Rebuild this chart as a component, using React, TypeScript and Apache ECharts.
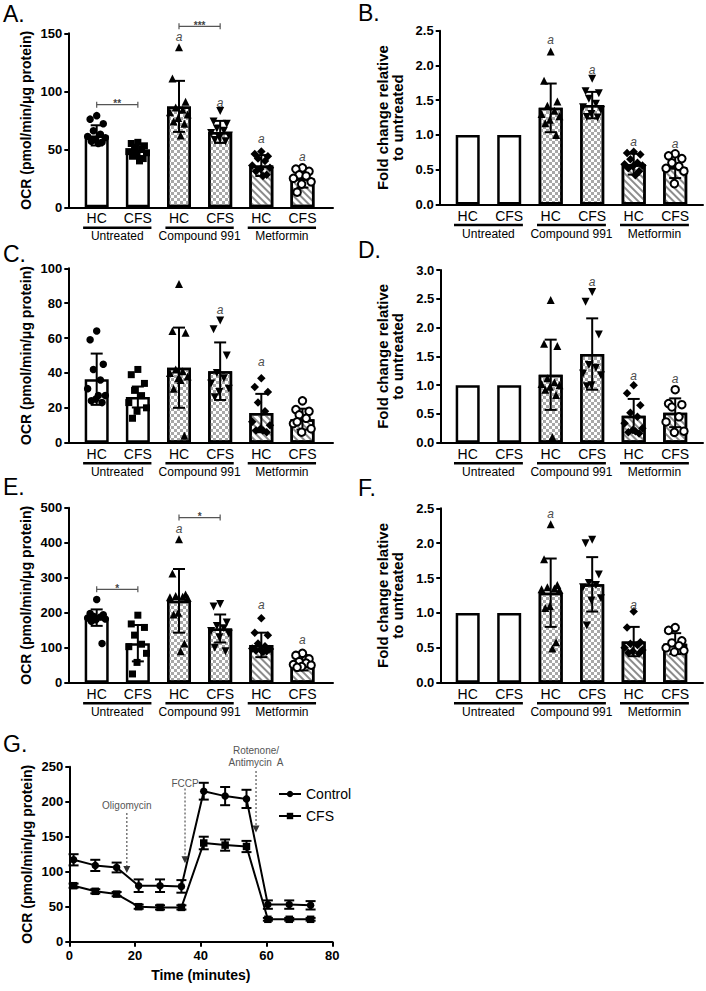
import React, { useEffect, useRef } from "react";
import * as echarts from "echarts";

const FONT = "'Liberation Sans', Arial, Helvetica, sans-serif";

// ---------- shared categories ----------
const CATEGORIES = ["HC", "CFS", "HC", "CFS", "HC", "CFS"];
const GROUPS = ["Untreated", "Compound 991", "Metformin"];
const GROUP_SPANS = [[0, 1], [2, 3], [4, 5]];
const JITTER = [0, -0.16, 0.16, -0.08, 0.09, -0.22, 0.21, -0.02, -0.13, 0.13, 0.04, -0.19];

// ---------- Panel A ----------
const A_MEANS = [62, 49, 87, 65, 36, 25];
const A_SD = [8.7, 5, 22, 9.5, 9, 8];
const A_POINTS = [
  [79, 76, 72, 66, 63, 61, 60, 58, 57, 56, 55],
  [56, 55, 53, 51, 50, 48, 47, 45, 44, 42, 40],
  [138, 111, 91, 86, 84, 82, 80, 77, 74, 72, 62],
  [83, 74, 72, 68, 66, 64, 62, 60, 58, 57],
  [48, 46, 44, 42, 40, 36, 34, 33, 31, 28, 27],
  [34, 33, 31, 28, 27, 25, 22, 20, 13],
];
const A_MARKS = [[2, 146.5], [3, 90], [4, 59], [5, 43]];
const A_BRACKETS = [[0, 1, 88.5], [2, 3, 156]];
const A_BRACKET_LABELS = ["**", "***"];

// ---------- Panel B ----------
const B_MEANS = [1, 1, 1.39, 1.43, 0.58, 0.54];
const B_SD = [0, 0, 0.35, 0.19, 0.15, 0.16];
const B_POINTS = [
  [],
  [],
  [2.2, 1.78, 1.48, 1.42, 1.35, 1.3, 1.27, 1.22, 1.17, 1.0],
  [1.81, 1.63, 1.6, 1.52, 1.45, 1.4, 1.36, 1.3, 1.26, 1.25],
  [0.76, 0.74, 0.72, 0.65, 0.6, 0.58, 0.56, 0.55, 0.52, 0.48, 0.42],
  [0.73, 0.7, 0.66, 0.6, 0.55, 0.52, 0.48, 0.3],
];
const B_MARKS = [[2, 2.37], [3, 1.93], [4, 0.9], [5, 0.87]];

// ---------- Panel C ----------
const C_MEANS = [36.4, 26.2, 43, 41, 17, 13.5];
const C_SD = [14.7, 6, 23, 16.5, 11, 6];
const C_POINTS = [
  [64, 59, 45, 42, 36, 31, 27, 25, 24, 23, 27],
  [42, 39, 34, 30, 27, 23, 20, 18, 14],
  [91, 64, 63, 42, 41, 40, 38, 37, 31, 4, 36],
  [70, 65, 50, 40, 37, 34, 31, 29, 26],
  [37, 32, 29, 23, 18, 12, 10, 8, 7, 6, 7],
  [24, 19, 18, 16, 14, 11, 8, 6, 12],
];
const C_MARKS = [[3, 76], [4, 46]];

// ---------- Panel D ----------
const D_MEANS = [1, 1, 1.18, 1.54, 0.47, 0.52];
const D_SD = [0, 0, 0.61, 0.62, 0.29, 0.25];
const D_POINTS = [
  [],
  [],
  [2.48, 1.72, 1.68, 1.12, 1.05, 1.02, 1.0, 0.97, 0.92, 0.83, 0.1],
  [2.62, 2.45, 1.88, 1.35, 1.3, 1.2, 1.17, 1.0, 0.98],
  [1.0, 0.86, 0.65, 0.52, 0.45, 0.34, 0.25, 0.22, 0.18, 0.16, 0.2],
  [0.92, 0.68, 0.66, 0.62, 0.45, 0.36, 0.2, 0.18],
];
const D_MARKS = [[3, 2.8], [4, 1.15], [5, 1.1]];

// ---------- Panel E ----------
const E_MEANS = [186, 113, 234, 155, 108, 57];
const E_SD = [23.5, 52, 91, 40, 35, 22];
const E_POINTS = [
  [238, 198, 194, 190, 188, 185, 182, 180, 176, 112],
  [193, 168, 158, 136, 110, 103, 84, 58, 25],
  [410, 312, 252, 248, 246, 244, 242, 200, 195, 112, 90],
  [225, 218, 172, 162, 156, 148, 140, 130, 100, 90],
  [184, 143, 136, 112, 104, 98, 96, 94, 92, 90, 88],
  [84, 78, 68, 60, 56, 52, 50, 46, 44],
];
const E_MARKS = [[2, 438], [4, 222], [5, 122]];
const E_BRACKETS = [[0, 1, 267], [2, 3, 472]];
const E_BRACKET_LABELS = ["*", "*"];

// ---------- Panel F ----------
const F_MEANS = [1, 1, 1.29, 1.41, 0.59, 0.56];
const F_SD = [0, 0, 0.49, 0.39, 0.21, 0.15];
const F_POINTS = [
  [],
  [],
  [2.27, 1.77, 1.4, 1.37, 1.35, 1.34, 1.33, 1.1, 1.07, 0.58, 0.49],
  [2.05, 2.0, 1.55, 1.43, 1.4, 1.37, 1.21, 1.18, 0.82],
  [1.02, 0.79, 0.58, 0.56, 0.54, 0.5, 0.47, 0.45, 0.43, 0.42],
  [0.79, 0.75, 0.6, 0.57, 0.53, 0.5, 0.46, 0.44],
];
const F_MARKS = [[2, 2.42], [4, 1.11]];

// ---------- Panel G ----------
const G_TIME = [1.3, 7.9, 14.4, 21.1, 27.6, 34.1, 40.9, 47.4, 53.9, 60.4, 66.9, 73.4];
const G_CONTROL = [117, 109, 106, 80, 80, 79, 215, 208, 204, 53, 53, 52];
const G_CONTROL_SD = [8, 8, 7, 9, 9, 9, 12, 13, 13, 6, 6, 6];
const G_CFS = [80, 72, 68, 50, 49, 49, 141, 138, 136, 32, 32, 32];
const G_CFS_SD = [3, 3, 3, 3, 3, 3, 9, 8, 8, 2, 2, 2];
const G_INJECTIONS = [[17.5, 184, 98, 194], [35.2, 219, 112, 226.7], [56.8, 244, 156, 264]];
const G_INJECTION_LABELS = ["Oligomycin", "FCCP", "Rotenone/\nAntimycin  A"];

const OCR_NAME = "OCR (pmol/min/μg protein)";
const FOLD_NAME = "Fold change relative\nto untreated";

// ---------- styling ----------
const SYMBOLS = ["circle", "rect", "triangle", "triangle", "diamond", "circle"];
const SYMBOL_ROT = [0, 0, 0, 180, 0, 0];
const SYMBOL_FILL = ["#000", "#000", "#000", "#000", "#000", "#fff"];
const SYMBOL_SIZE = [7.5, 7, 8, 8, 8.5, 7.5];
const CHECK_DECAL = {
  symbol: "rect",
  symbolSize: 1,
  color: "#a8a8a8",
  dashArrayX: [[3, 3], [0, 3, 3, 0]],
  dashArrayY: [3, 0],
  rotation: 0,
};
const STRIPE_DECAL = {
  symbol: "rect",
  symbolSize: 1,
  color: "#8c8c8c",
  dashArrayX: [1, 0],
  dashArrayY: [2, 3],
  rotation: Math.PI / 4,
};
const DECALS = [null, null, CHECK_DECAL, CHECK_DECAL, STRIPE_DECAL, STRIPE_DECAL];

type BarPanel = {
  means: number[];
  sds: number[];
  points: number[][];
  marks: number[][];
  brackets?: number[][];
  bracketLabels?: string[];
  box: { left: number; top: number; width: number; height: number };
  xMin: number;
  xMax: number;
  yMax: number;
  yInterval: number;
  decimals: number;
  yName: string;
  yNameSize: number;
};

const PANELS: BarPanel[] = [
  { means: A_MEANS, sds: A_SD, points: A_POINTS, marks: A_MARKS, brackets: A_BRACKETS, bracketLabels: A_BRACKET_LABELS,
    box: { left: 68.3, top: 33.3, width: 264.7, height: 174 }, xMin: -0.69, xMax: 5.742, yMax: 150, yInterval: 50, decimals: 0, yName: OCR_NAME, yNameSize: 14 },
  { means: B_MEANS, sds: B_SD, points: B_POINTS, marks: B_MARKS,
    box: { left: 439.7, top: 30.7, width: 263.3, height: 173.8 }, xMin: -0.675, xMax: 5.67, yMax: 2.5, yInterval: 0.5, decimals: 1, yName: FOLD_NAME, yNameSize: 15 },
  { means: C_MEANS, sds: C_SD, points: C_POINTS, marks: C_MARKS,
    box: { left: 68.3, top: 268.3, width: 264.7, height: 174.4 }, xMin: -0.69, xMax: 5.742, yMax: 100, yInterval: 20, decimals: 0, yName: OCR_NAME, yNameSize: 14 },
  { means: D_MEANS, sds: D_SD, points: D_POINTS, marks: D_MARKS,
    box: { left: 440.3, top: 270, width: 262.7, height: 172.7 }, xMin: -0.66, xMax: 5.67, yMax: 3, yInterval: 0.5, decimals: 1, yName: FOLD_NAME, yNameSize: 15 },
  { means: E_MEANS, sds: E_SD, points: E_POINTS, marks: E_MARKS, brackets: E_BRACKETS, bracketLabels: E_BRACKET_LABELS,
    box: { left: 68.3, top: 507.8, width: 264.7, height: 174.9 }, xMin: -0.69, xMax: 5.742, yMax: 500, yInterval: 100, decimals: 0, yName: OCR_NAME, yNameSize: 14 },
  { means: F_MEANS, sds: F_SD, points: F_POINTS, marks: F_MARKS,
    box: { left: 440.3, top: 508.3, width: 262.7, height: 174.4 }, xMin: -0.66, xMax: 5.67, yMax: 2.5, yInterval: 0.5, decimals: 1, yName: FOLD_NAME, yNameSize: 15 },
];

const G_BOX = { left: 69.3, top: 766.7, width: 263, height: 175 };

const PANEL_LETTERS = [
  { t: "A.", x: 3, y: 14 },
  { t: "B.", x: 358, y: 13 },
  { t: "C.", x: 3, y: 254 },
  { t: "D.", x: 358, y: 250 },
  { t: "E.", x: 3, y: 487 },
  { t: "F.", x: 358, y: 488 },
  { t: "G.", x: 3, y: 744 },
];

function errorBarRender(capHalf: number) {
  return (params: any, api: any) => {
    const x = api.value(0);
    const m = api.value(1);
    const sd = api.value(2);
    if (!sd) return { type: "group", children: [] };
    const top = api.coord([x, m + sd]);
    const bot = api.coord([x, m - sd]);
    const style = { stroke: "#000", lineWidth: 2 };
    return {
      type: "group",
      children: [
        { type: "line", shape: { x1: top[0], y1: top[1], x2: bot[0], y2: bot[1] }, style },
        { type: "line", shape: { x1: top[0] - capHalf, y1: top[1], x2: top[0] + capHalf, y2: top[1] }, style },
        { type: "line", shape: { x1: bot[0] - capHalf, y1: bot[1], x2: bot[0] + capHalf, y2: bot[1] }, style },
      ],
    };
  };
}

const AXIS_LINE = { show: true, onZero: false, lineStyle: { color: "#000", width: 2 } };

function buildOption() {
  const grid: any[] = [];
  const xAxis: any[] = [];
  const yAxis: any[] = [];
  const series: any[] = [];

  PANELS.forEach((p, gi) => {
    grid.push({ ...p.box, containLabel: false });
    xAxis.push({
      gridIndex: gi,
      type: "value",
      min: p.xMin,
      max: p.xMax,
      axisLine: AXIS_LINE,
      axisTick: { show: false },
      splitLine: { show: false },
      axisLabel: {
        customValues: [0, 1, 2, 3, 4, 5],
        formatter: (v: number) => CATEGORIES[Math.round(v)],
        fontSize: 14,
        color: "#000",
        fontFamily: FONT,
        margin: 4,
      },
    });
    yAxis.push({
      gridIndex: gi,
      type: "value",
      min: 0,
      max: p.yMax,
      interval: p.yInterval,
      name: p.yName,
      nameLocation: "middle",
      nameGap: 35,
      nameTextStyle: { fontSize: p.yNameSize, fontWeight: "bold", color: "#000", fontFamily: FONT, lineHeight: 15 },
      axisLine: AXIS_LINE,
      axisTick: { show: true, length: 4, lineStyle: { color: "#000", width: 2 } },
      splitLine: { show: false },
      axisLabel: {
        fontSize: 13,
        fontWeight: "bold",
        color: "#000",
        fontFamily: FONT,
        margin: 6,
        formatter: (v: number) => v.toFixed(p.decimals),
      },
    });

    series.push({
      type: "bar",
      xAxisIndex: gi,
      yAxisIndex: gi,
      barWidth: 24,
      z: 2,
      silent: true,
      data: p.means.map((m, i) => ({
        value: [i, m],
        itemStyle: {
          color: "#fff",
          borderColor: "#000",
          borderWidth: 2.5,
          ...(DECALS[i] ? { decal: DECALS[i] } : {}),
        },
      })),
    });

    series.push({
      type: "custom",
      xAxisIndex: gi,
      yAxisIndex: gi,
      z: 3,
      silent: true,
      clip: false,
      encode: { x: 0, y: 1 },
      renderItem: errorBarRender(6),
      data: p.means.map((m, i) => [i, m, p.sds[i]]),
    });

    p.points.forEach((vals, ci) => {
      if (!vals.length) return;
      series.push({
        type: "scatter",
        xAxisIndex: gi,
        yAxisIndex: gi,
        z: 4,
        silent: true,
        symbol: SYMBOLS[ci],
        symbolRotate: SYMBOL_ROT[ci],
        symbolSize: SYMBOL_SIZE[ci],
        itemStyle: {
          color: SYMBOL_FILL[ci],
          borderColor: "#000",
          borderWidth: SYMBOL_FILL[ci] === "#fff" ? 2 : 0,
          opacity: 1,
        },
        data: vals.map((v, k) => [ci + JITTER[k % JITTER.length], v]),
      });
    });

    series.push({
      type: "custom",
      xAxisIndex: gi,
      yAxisIndex: gi,
      z: 5,
      silent: true,
      clip: false,
      encode: { x: 0, y: 1 },
      renderItem: (params: any, api: any) => {
        const c = api.coord([api.value(0), api.value(1)]);
        return {
          type: "text",
          style: {
            text: "a",
            x: c[0],
            y: c[1],
            textAlign: "center",
            textVerticalAlign: "middle",
            fontSize: 12,
            fontStyle: "italic",
            fontFamily: FONT,
            fill: "#4d4d4d",
          },
        };
      },
      data: p.marks,
    });

    if (p.brackets) {
      const labels = p.bracketLabels || [];
      series.push({
        type: "custom",
        xAxisIndex: gi,
        yAxisIndex: gi,
        z: 5,
        silent: true,
        clip: false,
        encode: { x: [0, 1], y: 2 },
        renderItem: (params: any, api: any) => {
          const y = api.value(2);
          const p1 = api.coord([api.value(0), y]);
          const p2 = api.coord([api.value(1), y]);
          const st = { stroke: "#555", lineWidth: 1.2 };
          return {
            type: "group",
            children: [
              { type: "line", shape: { x1: p1[0], y1: p1[1], x2: p2[0], y2: p2[1] }, style: st },
              { type: "line", shape: { x1: p1[0], y1: p1[1] - 3, x2: p1[0], y2: p1[1] + 3 }, style: st },
              { type: "line", shape: { x1: p2[0], y1: p2[1] - 3, x2: p2[0], y2: p2[1] + 3 }, style: st },
              {
                type: "text",
                style: {
                  text: labels[params.dataIndex],
                  x: (p1[0] + p2[0]) / 2,
                  y: p1[1] - 1,
                  textAlign: "center",
                  textVerticalAlign: "middle",
                  fontSize: 10,
                  fontWeight: "bold",
                  fontFamily: FONT,
                  fill: "#444",
                },
              },
            ],
          };
        },
        data: p.brackets,
      });
    }

    series.push({
      type: "custom",
      xAxisIndex: gi,
      yAxisIndex: gi,
      z: 5,
      silent: true,
      clip: false,
      encode: { x: [0, 1] },
      renderItem: (params: any, api: any) => {
        const a = api.coord([api.value(0) - 0.33, 0]);
        const b = api.coord([api.value(1) + 0.33, 0]);
        const yl = a[1] + 20.5;
        return {
          type: "group",
          children: [
            { type: "line", shape: { x1: a[0], y1: yl, x2: b[0], y2: yl }, style: { stroke: "#000", lineWidth: 2.5 } },
            {
              type: "text",
              style: {
                text: GROUPS[params.dataIndex],
                x: (a[0] + b[0]) / 2,
                y: a[1] + 29,
                textAlign: "center",
                textVerticalAlign: "middle",
                fontSize: 12,
                fontFamily: FONT,
                fill: "#000",
              },
            },
          ],
        };
      },
      data: GROUP_SPANS,
    });
  });

  // ---------- Panel G ----------
  const gi = PANELS.length;
  grid.push({ ...G_BOX, containLabel: false });
  xAxis.push({
    gridIndex: gi,
    type: "value",
    min: 0,
    max: 80,
    interval: 20,
    name: "Time (minutes)",
    nameLocation: "middle",
    nameGap: 26,
    nameTextStyle: { fontSize: 14, fontWeight: "bold", color: "#000", fontFamily: FONT },
    axisLine: AXIS_LINE,
    axisTick: { show: true, length: 5, lineStyle: { color: "#000", width: 2 } },
    splitLine: { show: false },
    axisLabel: { fontSize: 13, fontWeight: "bold", color: "#000", fontFamily: FONT, margin: 7 },
  });
  yAxis.push({
    gridIndex: gi,
    type: "value",
    min: 0,
    max: 250,
    interval: 50,
    name: OCR_NAME,
    nameLocation: "middle",
    nameGap: 35,
    nameTextStyle: { fontSize: 14, fontWeight: "bold", color: "#000", fontFamily: FONT },
    axisLine: AXIS_LINE,
    axisTick: { show: true, length: 4, lineStyle: { color: "#000", width: 2 } },
    splitLine: { show: false },
    axisLabel: { fontSize: 13, fontWeight: "bold", color: "#000", fontFamily: FONT, margin: 6 },
  });

  const lineDefs = [
    { name: "Control", vals: G_CONTROL, sd: G_CONTROL_SD, symbol: "circle" },
    { name: "CFS", vals: G_CFS, sd: G_CFS_SD, symbol: "rect" },
  ];
  lineDefs.forEach((d) => {
    series.push({
      type: "custom",
      xAxisIndex: gi,
      yAxisIndex: gi,
      z: 3,
      silent: true,
      clip: false,
      encode: { x: 0, y: 1 },
      renderItem: errorBarRender(5),
      data: G_TIME.map((t, i) => [t, d.vals[i], d.sd[i]]),
    });
    series.push({
      type: "line",
      name: d.name,
      xAxisIndex: gi,
      yAxisIndex: gi,
      z: 4,
      silent: true,
      symbol: d.symbol,
      symbolSize: 7.5,
      showSymbol: true,
      itemStyle: { color: "#000" },
      lineStyle: { color: "#000", width: 2 },
      data: G_TIME.map((t, i) => [t, d.vals[i]]),
    });
  });

  series.push({
    type: "custom",
    xAxisIndex: gi,
    yAxisIndex: gi,
    z: 5,
    silent: true,
    clip: false,
    encode: { x: 0, y: [1, 2] },
    renderItem: (params: any, api: any) => {
      const t = api.value(0);
      const p1 = api.coord([t, api.value(1)]);
      const p2 = api.coord([t, api.value(2)]);
      const pl = api.coord([t, api.value(3)]);
      const ah = 7;
      const aw = 3.5;
      return {
        type: "group",
        children: [
          {
            type: "line",
            shape: { x1: p1[0], y1: p1[1], x2: p2[0], y2: p2[1] - ah + 1 },
            style: { stroke: "#555", lineWidth: 1.2, lineDash: [2, 2] },
          },
          {
            type: "polygon",
            shape: { points: [[p2[0] - aw, p2[1] - ah], [p2[0] + aw, p2[1] - ah], [p2[0], p2[1]]] },
            style: { fill: "#333" },
          },
          {
            type: "text",
            style: {
              text: G_INJECTION_LABELS[params.dataIndex],
              x: pl[0],
              y: pl[1],
              textAlign: "center",
              textVerticalAlign: "middle",
              fontSize: 10,
              lineHeight: 12,
              fontFamily: FONT,
              fill: "#555",
            },
          },
        ],
      };
    },
    data: G_INJECTIONS,
  });

  return {
    animation: false,
    backgroundColor: "#fff",
    grid,
    xAxis,
    yAxis,
    series,
    legend: {
      data: ["Control", "CFS"],
      orient: "vertical",
      left: 273,
      top: 782,
      itemWidth: 22,
      itemHeight: 8,
      itemGap: 8,
      selectedMode: false,
      textStyle: { fontSize: 14, color: "#000", fontFamily: FONT },
    },
    graphic: PANEL_LETTERS.map((l) => ({
      type: "text",
      x: l.x,
      y: l.y,
      silent: true,
      style: {
        text: l.t,
        x: 0,
        y: 0,
        textVerticalAlign: "middle",
        fontSize: 23,
        fontFamily: FONT,
        fill: "#000",
      },
    })),
  };
}

export default function App() {
  const ref = useRef<HTMLDivElement>(null);
  useEffect(() => {
    if (!ref.current) return;
    const chart = echarts.init(ref.current, undefined, { renderer: "svg" });
    chart.setOption(buildOption() as any);
    return () => chart.dispose();
  }, []);
  return (
    <div
      ref={ref}
      style={{ position: "absolute", left: 0, top: 0, width: 706, height: 991, background: "#fff" }}
    />
  );
}
